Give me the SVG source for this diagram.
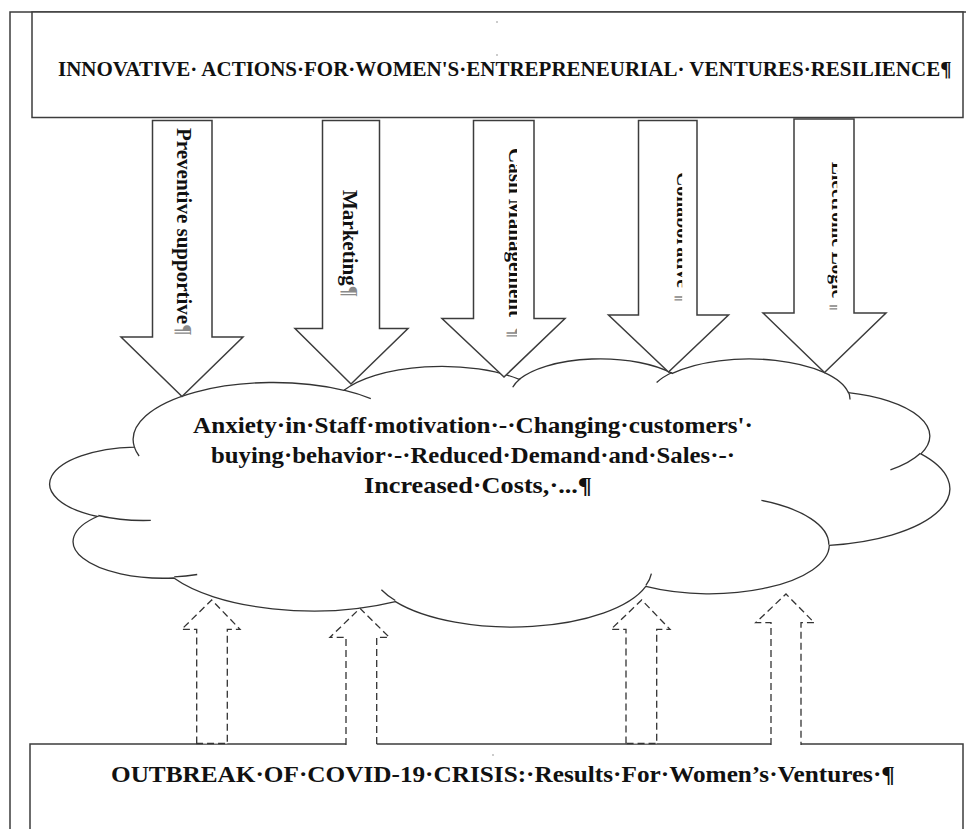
<svg xmlns="http://www.w3.org/2000/svg" width="966" height="829" viewBox="0 0 966 829">
<style>
.line{fill:none;stroke:#3c3c3c;stroke-width:1.5}
.box{fill:#fff;stroke:#3c3c3c;stroke-width:1.5}
.blk{fill:#fff;stroke:#3c3c3c;stroke-width:1.5;stroke-linejoin:miter}
.dash{fill:#fff;stroke:#333;stroke-width:1.3;stroke-dasharray:7 4}
.cloud{fill:#fff;stroke:#333;stroke-width:1.3}
.inner{fill:none;stroke:#333;stroke-width:1.3}
.t{font-family:"Liberation Serif","Times New Roman",serif;font-weight:bold;fill:#111}
.pil{fill:#8a8a8a}
.mark{fill:#9a9a9a}
</style>
<defs>
<clipPath id="c3"><rect x="504.3" y="130" width="12.7" height="220"/></clipPath>
<clipPath id="c4"><rect x="672.4" y="150" width="9.8" height="170"/></clipPath>
<clipPath id="c5"><rect x="827.4" y="140" width="9.8" height="180"/></clipPath>
</defs>
<rect width="966" height="829" fill="#fff"/>
<g id="frame">
<path class="line" d="M10,829 V12 H966"/>
</g>
<g id="node-top">
<rect class="box" x="32" y="12" width="931" height="105.5"/>
<rect class="mark" x="496.5" y="21" width="1" height="2"/>
<rect class="mark" x="496.5" y="54" width="1" height="2"/>
<text class="t" x="58" y="76" font-size="21">INNOVATIVE· ACTIONS·FOR·WOMEN'S·ENTREPRENEURIAL· VENTURES·RESILIENCE¶</text>
</g>
<g id="node-cloud">
<path class="cloud" d="M134.4,447.1 A140.1,57 0 0 1 344,390.3 A110.6,45.1 0 0 1 519.3,379.3 A90.5,36.9 0 0 1 672.3,373.4 A100.7,40.9 0 0 1 848.3,392.6 A110.6,45.1 0 0 1 920.9,453.9 A140.5,57.2 0 0 1 829.3,545.3 A120,48.8 0 0 1 645.8,586.4 A140,57.2 0 0 1 395.4,601.6 A160.1,65.4 0 0 1 173.9,578 A90.4,36.7 0 0 1 97.4,516.5 A90.1,36.9 0 0 1 134.4,447.1 Z"/>
<path class="inner" d="M150.8,520.4 A90.1,36.9 0 0 1 98.3,515.5 M197.2,574.5 A90.4,36.7 0 0 1 174.2,576.9 M395.3,600.5 A140,57.2 0 0 1 381.4,589.7 M651.4,573.6 A140,57.2 0 0 1 645.9,585.4 M761.4,500.4 A120,48.8 0 0 1 828.8,544.7 M920.4,453.3 A110.6,45.1 0 0 1 890.4,469.9 M848.4,391.7 A100.7,40.9 0 0 1 850,399.5 M656.6,382.5 A100.7,40.9 0 0 1 672,372.5 M512.7,387.3 A90.5,36.9 0 0 1 520.2,378.7 M343.9,390.2 A140.1,57 0 0 1 370.8,398.6 M139.1,456 A140.1,57 0 0 1 134.4,447.1"/>
<text class="t" x="193" y="433" font-size="23" textLength="560" lengthAdjust="spacingAndGlyphs">Anxiety·in·Staff·motivation·-·Changing·customers'·</text>
<text class="t" x="211" y="462.5" font-size="23" textLength="524" lengthAdjust="spacingAndGlyphs">buying·behavior·-·Reduced·Demand·and·Sales·-·</text>
<text class="t" x="364" y="493" font-size="23" textLength="228" lengthAdjust="spacingAndGlyphs">Increased·Costs,·...¶</text>
</g>
<g id="node-bottom">
<rect class="box" x="30" y="744" width="933" height="100"/>
<rect class="mark" x="492.5" y="754" width="1" height="2"/>
<text class="t" x="111" y="782" font-size="23" textLength="784" lengthAdjust="spacingAndGlyphs">OUTBREAK·OF·COVID-19·CRISIS:·Results·For·Women’s·Ventures·¶</text>
</g>
<g id="connectors">
<g id="arrow-preventive">
<path class="blk" d="M152.5,120.5 H212 V337 H243 L182,396.5 L121,337 H152.5 Z"/>
<text class="t" font-size="21" transform="translate(176.5,128) rotate(90)">Preventive supportive<tspan class="pil">¶</tspan></text>
</g>
<g id="arrow-marketing">
<path class="blk" d="M322.5,120.5 H379.5 V328.5 H408 L351,384 L295,328.5 H322.5 Z"/>
<text class="t" font-size="21" transform="translate(343,190) rotate(90)">Marketing<tspan class="pil">¶</tspan></text>
</g>
<g id="arrow-cash">
<path class="blk" d="M473.5,120.5 H534 V318.5 H565 L504,377 L442,318.5 H473.5 Z"/>
<g clip-path="url(#c3)">
<text class="t" font-size="21" transform="translate(509,148) rotate(90)" textLength="169" lengthAdjust="spacingAndGlyphs">Cash Management</text>
<text class="t pil" font-size="21" transform="translate(509,327) rotate(90)">¶</text>
</g>
</g>
<g id="arrow-collaborative">
<path class="blk" d="M638.5,120.5 H697 V315 H728.5 L668.5,372 L608.5,315 H638.5 Z"/>
<g clip-path="url(#c4)">
<text class="t" font-size="21" transform="translate(677,172) rotate(90)" textLength="116" lengthAdjust="spacingAndGlyphs">Collaborative</text>
<text class="t pil" font-size="21" transform="translate(677,291) rotate(90)">¶</text>
</g>
</g>
<g id="arrow-electronic">
<path class="blk" d="M794,119 H854 V313 H886 L824.5,372.5 L763,313 H794 Z"/>
<g clip-path="url(#c5)">
<text class="t" font-size="21" transform="translate(832,162) rotate(90)" textLength="136" lengthAdjust="spacingAndGlyphs">Electronic Logic</text>
<text class="t pil" font-size="21" transform="translate(832,300) rotate(90)">¶</text>
</g>
</g>
<path class="dash" d="M196.7,743.5 V629.3 H181.7 L211.7,600 L240,629.3 H227.3 V743.5 Z"/>
<path class="dash" d="M346,745 V637.3 H330 L360,608.3 L389.3,637.3 H376.7 V745"/>
<path class="dash" d="M626,743.5 V629.3 H611 L641.7,600 L670,629.3 H656.7 V743.5 Z"/>
<path class="dash" d="M771,745 V622.7 H755.7 L786,594 L814.3,622.7 H801 V745"/>
</g>
</svg>
